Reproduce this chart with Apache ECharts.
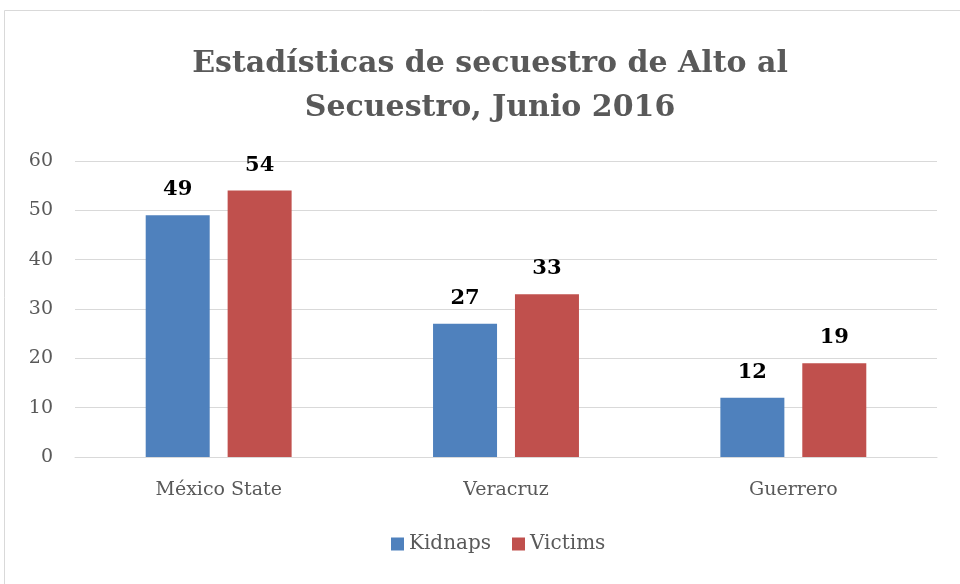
<!DOCTYPE html>
<html><head><meta charset="utf-8">
<script src="https://cdn.jsdelivr.net/npm/echarts@6/dist/echarts.min.js"></script>
<style>html,body{margin:0;padding:0;background:#fff}#c{width:960px;height:584px}</style>
</head><body><div id="c"></div>
<script>
const categories = ['México State', 'Veracruz', 'Guerrero'];
const kidnaps = [49, 27, 12];
const victims = [54, 33, 19];
const yTicks = [0, 10, 20, 30, 40, 50, 60];
const seriesNames = ['Kidnaps', 'Victims'];

const serif = "'DejaVu Serif', 'Liberation Serif', serif";
const chart = echarts.init(document.getElementById('c'), null, {renderer: 'canvas'});
const labelCfg = {show: true, position: 'top', distance: 15, fontFamily: serif, fontWeight: 'bold', fontSize: 21, color: '#000'};
chart.setOption({
  animation: false,
  backgroundColor: '#fff',
  graphic: [{type: 'rect', shape: {x: 4.5, y: 10.5, width: 1000, height: 1000}, style: {fill: 'none', stroke: '#d9d9d9', lineWidth: 1}, silent: true}],
  title: {
    text: 'Estadísticas de secuestro de Alto al\nSecuestro, Junio 2016',
    left: 485, top: 37, textAlign: 'center',
    textStyle: {fontFamily: serif, fontWeight: 'bold', fontSize: 30, lineHeight: 44, color: '#595959'}
  },
  legend: {
    bottom: 25, left: 386, itemWidth: 13, itemHeight: 13, itemGap: 21, icon: 'rect',
    textStyle: {fontFamily: serif, fontSize: 20, color: '#595959'},
    data: seriesNames
  },
  grid: {left: 75, right: 23, top: 161, bottom: 127, containLabel: false},
  xAxis: {
    type: 'category', data: categories,
    axisLine: {lineStyle: {color: '#d9d9d9', width: 1}},
    axisTick: {show: false},
    axisLabel: {fontFamily: serif, fontSize: 19, color: '#595959', margin: 24}
  },
  yAxis: {
    type: 'value', min: 0, max: 60, interval: 10,
    axisLine: {show: false}, axisTick: {show: false},
    splitLine: {lineStyle: {color: '#d9d9d9', width: 1}},
    axisLabel: {fontFamily: serif, fontSize: 19, color: '#595959', margin: 22,
      formatter: v => yTicks.includes(v) ? String(v) : ''}
  },
  series: [
    {name: seriesNames[0], type: 'bar', data: kidnaps, barWidth: 64, barGap: '28%', itemStyle: {color: '#4F81BD'}, label: labelCfg},
    {name: seriesNames[1], type: 'bar', data: victims, barWidth: 64, itemStyle: {color: '#C0504D'}, label: labelCfg}
  ]
});
</script></body></html>
